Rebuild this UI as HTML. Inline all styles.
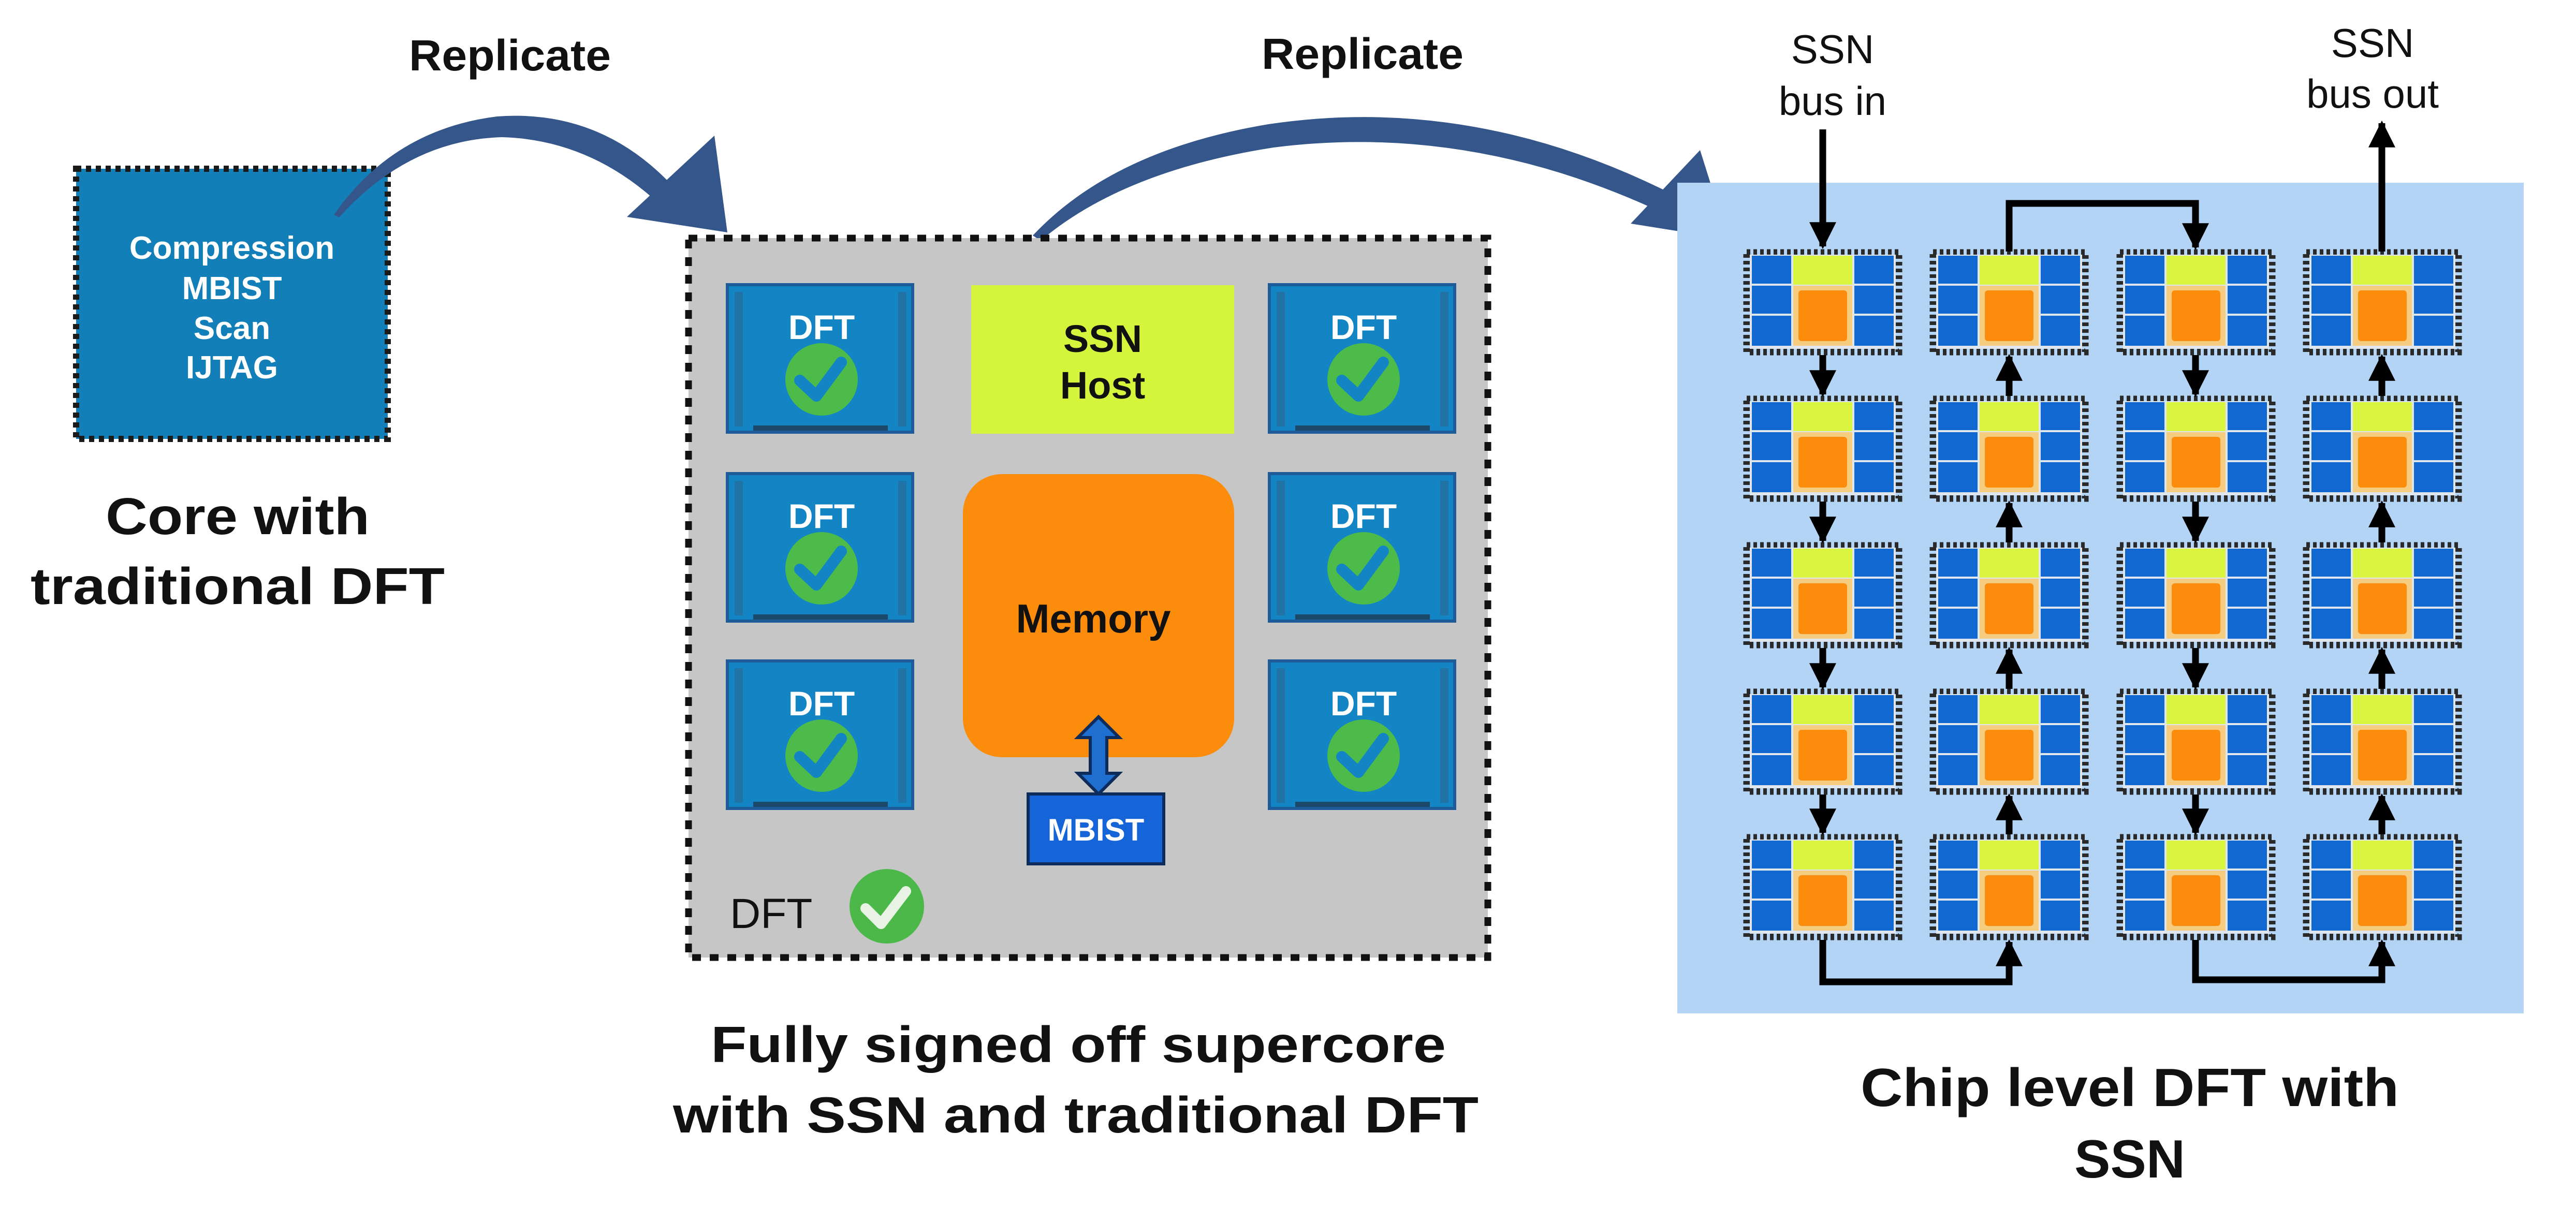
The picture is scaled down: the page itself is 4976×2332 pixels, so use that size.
<!DOCTYPE html>
<html><head><meta charset="utf-8"><style>
html,body{margin:0;padding:0;background:#fff;}
svg{display:block;}
text{font-family:"Liberation Sans",sans-serif;}
</style></head><body>
<svg width="4976" height="2332" viewBox="0 0 4976 2332" xmlns="http://www.w3.org/2000/svg">
<defs>
<g id="chip">
  <rect x="6" y="6" width="294" height="192" fill="none" stroke="#2a2a2a" stroke-width="13" stroke-dasharray="7 6"/>
  <rect x="12" y="10" width="282" height="182" fill="#dfe6ee"/>
  <rect x="16" y="12" width="76" height="54" fill="#1168d0"/>
  <rect x="16" y="70" width="76" height="54" fill="#1168d0"/>
  <rect x="16" y="128" width="76" height="58" fill="#1168d0"/>
  <rect x="96" y="12" width="114" height="56" fill="#d9f540"/>
  <rect x="96" y="70" width="114" height="116" fill="#f5cc80"/>
  <rect x="106" y="79" width="94" height="98" rx="6" fill="#fb8c0c"/>
  <rect x="214" y="12" width="76" height="54" fill="#1168d0"/>
  <rect x="214" y="70" width="76" height="54" fill="#1168d0"/>
  <rect x="214" y="128" width="76" height="58" fill="#1168d0"/>
</g>
<g id="dft">
  <rect x="0" y="0" width="358" height="285" fill="#1485c4" stroke="#1d5c99" stroke-width="6"/>
  <rect x="14" y="14" width="16" height="260" fill="#2d5f86" opacity="0.5"/>
  <rect x="330" y="14" width="16" height="260" fill="#2d5f86" opacity="0.5"/>
  <rect x="50" y="272" width="260" height="10" fill="#1f2f44" opacity="0.7"/>
  <text x="182" y="105" font-size="66" font-weight="bold" fill="#fff" text-anchor="middle">DFT</text>
  <circle cx="182" cy="183" r="70" fill="#4cbb4a"/>
  <path d="M140 185 L172 215 L220 150" fill="none" stroke="#1485c4" stroke-width="22" stroke-linecap="round" stroke-linejoin="round"/>
</g>
<marker id="ah" viewBox="0 0 10 10" refX="9" refY="5" markerWidth="4" markerHeight="4.5" orient="auto" markerUnits="strokeWidth">
  <path d="M0 0 L10 5 L0 10 z" fill="#000"/>
</marker>
</defs>

<rect x="147" y="326" width="602" height="522" fill="#127fb8" stroke="#1a1a1a" stroke-width="12" stroke-dasharray="10 9"/>
<g font-size="62" font-weight="bold" fill="#fff" text-anchor="middle">
<text x="448" y="500">Compression</text>
<text x="448" y="578">MBIST</text>
<text x="448" y="655">Scan</text>
<text x="448" y="731">IJTAG</text>
</g>
<g font-size="100" font-weight="bold" fill="#111" text-anchor="middle">
<text x="459" y="1032" textLength="510" lengthAdjust="spacingAndGlyphs">Core with</text>
<text x="459" y="1167" textLength="800" lengthAdjust="spacingAndGlyphs">traditional DFT</text>
</g>

<text x="985" y="136" font-size="84" font-weight="bold" fill="#111" text-anchor="middle" textLength="390" lengthAdjust="spacingAndGlyphs">Replicate</text>
<text x="2632" y="133" font-size="84" font-weight="bold" fill="#111" text-anchor="middle" textLength="390" lengthAdjust="spacingAndGlyphs">Replicate</text>

<path d="M645 415 Q760 250 960 225 Q1160 210 1300 360 L1340 400 L1290 410 Q1150 270 970 265 Q790 270 655 420 Z" fill="#34568a"/>
<path d="M1211 419 L1380 262 L1405 449 Z" fill="#34568a"/>
<path d="M1995 455 Q2150 290 2450 240 Q2850 180 3240 380 L3230 420 Q2850 235 2460 285 Q2170 330 2010 465 Z" fill="#34568a"/>
<path d="M3150 432 L3284 290 L3338 462 Z" fill="#34568a"/>

<rect x="1330" y="460" width="1544" height="1390" fill="#c6c6c6" stroke="#111" stroke-width="13" stroke-dasharray="17 17"/>
<use href="#dft" x="1405" y="550"/>
<use href="#dft" x="1405" y="915"/>
<use href="#dft" x="1405" y="1277"/>
<use href="#dft" x="2452" y="550"/>
<use href="#dft" x="2452" y="915"/>
<use href="#dft" x="2452" y="1277"/>
<rect x="1876" y="551" width="508" height="287" fill="#d4f53c"/>
<text x="2130" y="680" font-size="74" font-weight="bold" fill="#111" text-anchor="middle">SSN</text>
<text x="2130" y="770" font-size="74" font-weight="bold" fill="#111" text-anchor="middle">Host</text>
<rect x="1860" y="916" width="524" height="547" rx="75" fill="#fb8c0c"/>
<text x="2112" y="1222" font-size="78" font-weight="bold" fill="#111" text-anchor="middle">Memory</text>
<path d="M2122 1385 L2162 1425 L2138 1425 L2138 1494 L2162 1494 L2122 1534 L2082 1494 L2106 1494 L2106 1425 L2082 1425 Z" fill="#1e6fd0" stroke="#0d2c5c" stroke-width="6"/>
<rect x="1986" y="1534" width="262" height="135" fill="#1565d8" stroke="#0d2c5c" stroke-width="6"/>
<text x="2117" y="1624" font-size="60" font-weight="bold" fill="#fff" text-anchor="middle">MBIST</text>
<text x="1410" y="1793" font-size="82" fill="#111">DFT</text>
<circle cx="1713" cy="1751" r="72" fill="#4cb84a"/>
<path d="M1672 1755 L1702 1785 L1750 1722" fill="none" stroke="#e8f3e6" stroke-width="20" stroke-linecap="round" stroke-linejoin="round"/>
<g font-size="98" font-weight="bold" fill="#111" text-anchor="middle">
<text x="2083" y="2052" textLength="1420" lengthAdjust="spacingAndGlyphs">Fully signed off supercore</text>
<text x="2078" y="2188" textLength="1556" lengthAdjust="spacingAndGlyphs">with SSN and traditional DFT</text>
</g>

<rect x="3240" y="353" width="1635" height="1605" fill="#b3d4f5"/>
<g>
<use href="#chip" x="3368" y="482"/><use href="#chip" x="3728" y="482"/><use href="#chip" x="4089" y="482"/><use href="#chip" x="4449" y="482"/>
<use href="#chip" x="3368" y="765"/><use href="#chip" x="3728" y="765"/><use href="#chip" x="4089" y="765"/><use href="#chip" x="4449" y="765"/>
<use href="#chip" x="3368" y="1048"/><use href="#chip" x="3728" y="1048"/><use href="#chip" x="4089" y="1048"/><use href="#chip" x="4449" y="1048"/>
<use href="#chip" x="3368" y="1331"/><use href="#chip" x="3728" y="1331"/><use href="#chip" x="4089" y="1331"/><use href="#chip" x="4449" y="1331"/>
<use href="#chip" x="3368" y="1612"/><use href="#chip" x="3728" y="1612"/><use href="#chip" x="4089" y="1612"/><use href="#chip" x="4449" y="1612"/>
</g>
<g stroke="#000" stroke-width="13" fill="none">
<path d="M3521 250 L3521 476" marker-end="url(#ah)"/>
<path d="M4601 486 L4601 238" marker-end="url(#ah)"/>
<path d="M3881 486 L3881 393 L4241 393 L4241 478" marker-end="url(#ah)"/>
<path d="M3521 686 L3521 762" marker-end="url(#ah)"/>
<path d="M3521 969 L3521 1045" marker-end="url(#ah)"/>
<path d="M3521 1252 L3521 1328" marker-end="url(#ah)"/>
<path d="M3521 1535 L3521 1609" marker-end="url(#ah)"/>
<path d="M4241 686 L4241 762" marker-end="url(#ah)"/>
<path d="M4241 969 L4241 1045" marker-end="url(#ah)"/>
<path d="M4241 1252 L4241 1328" marker-end="url(#ah)"/>
<path d="M4241 1535 L4241 1609" marker-end="url(#ah)"/>
<path d="M3881 765 L3881 689" marker-end="url(#ah)"/>
<path d="M3881 1048 L3881 972" marker-end="url(#ah)"/>
<path d="M3881 1331 L3881 1255" marker-end="url(#ah)"/>
<path d="M3881 1612 L3881 1538" marker-end="url(#ah)"/>
<path d="M4601 765 L4601 689" marker-end="url(#ah)"/>
<path d="M4601 1048 L4601 972" marker-end="url(#ah)"/>
<path d="M4601 1331 L4601 1255" marker-end="url(#ah)"/>
<path d="M4601 1612 L4601 1538" marker-end="url(#ah)"/>
<path d="M3521 1816 L3521 1897 L3881 1897 L3881 1820" marker-end="url(#ah)"/>
<path d="M4241 1816 L4241 1893 L4601 1893 L4601 1820" marker-end="url(#ah)"/>
</g>
<g font-size="78" fill="#111" text-anchor="middle">
<text x="3540" y="122">SSN</text>
<text x="3540" y="222">bus in</text>
<text x="4583" y="110">SSN</text>
<text x="4583" y="208">bus out</text>
</g>
<g font-size="104" font-weight="bold" fill="#111" text-anchor="middle">
<text x="4114" y="2137" textLength="1040" lengthAdjust="spacingAndGlyphs">Chip level DFT with</text>
<text x="4114" y="2275">SSN</text>
</g>
</svg>
</body></html>
